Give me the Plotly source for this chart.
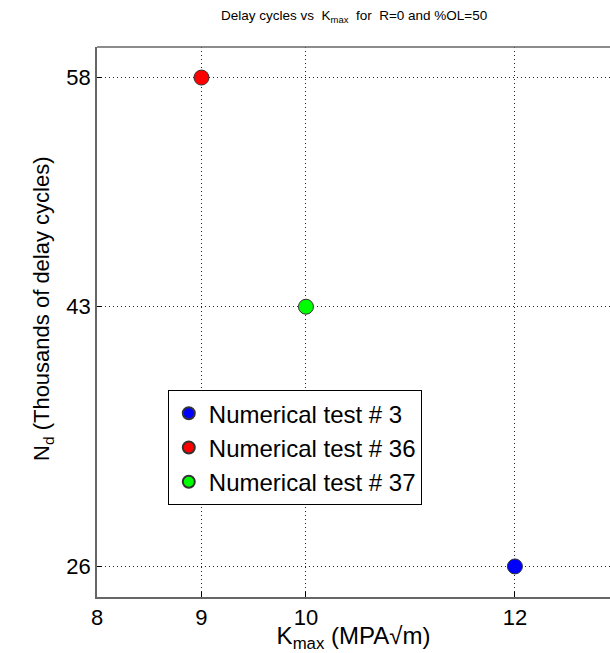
import plotly.graph_objects as go

names = ["Numerical test # 3", "Numerical test # 36", "Numerical test # 37"]
kmax = [12, 9, 10]
nd = [26, 58, 43]
colors = ["#0000ff", "#ff0000", "#00ff00"]
xticks = [8, 9, 10, 12]
yticks = [26, 43, 58]

FONT = "Liberation Sans, Arial, sans-serif"
fig = go.Figure()
for n, x, y, c in zip(names, kmax, nd, colors):
    fig.add_trace(go.Scatter(x=[x], y=[y], mode="markers", name=n,
                             marker=dict(size=15, color=c, line=dict(color="#333333", width=1))))

GRID = dict(showgrid=True, gridcolor="#222222", griddash="1px,3px", gridwidth=1)
fig.update_layout(
    width=610, height=653,
    margin=dict(l=97, r=0, t=47, b=56),
    paper_bgcolor="white", plot_bgcolor="white",
    font=dict(family=FONT, size=20, color="black"),
    showlegend=True,
    legend=dict(x=0.138, y=0.376, xanchor="left", yanchor="top",
                bordercolor="black", borderwidth=1, bgcolor="white",
                font=dict(size=24, family=FONT), itemsizing="constant",
                tracegroupgap=0),
    xaxis=dict(range=[8, 12.91], tickvals=xticks, ticktext=[str(v) for v in xticks],
               **GRID,
               zeroline=False, showline=True, linecolor="#666666", linewidth=1.5,
               mirror=False, ticks="inside", ticklen=5, tickcolor="black",
               tickfont=dict(size=22),
               title=dict(text="K<sub>max</sub> (MPA\u221am)", font=dict(size=24), standoff=0)),
    yaxis=dict(range=[24, 60], tickvals=yticks, ticktext=[str(v) for v in yticks],
               **GRID,
               zeroline=False, showline=True, linecolor="#666666", linewidth=1.5,
               ticks="inside", ticklen=5, tickcolor="black",
               tickfont=dict(size=22)),
    annotations=[dict(text="Delay cycles vs  K<sub>max</sub>  for  R=0 and %OL=50",
                      xref="paper", yref="paper", x=0.5, y=1, yshift=20,
                      xanchor="center", yanchor="bottom", showarrow=False,
                      font=dict(size=13.5, family=FONT)),
                 dict(text="N<sub>d</sub> (Thousands of delay cycles)",
                      xref="paper", yref="paper", x=-0.105, y=0.524, textangle=-90,
                      xanchor="center", yanchor="middle", showarrow=False,
                      font=dict(size=22, family=FONT))],
    shapes=[dict(type="line", xref="paper", yref="paper", x0=0, x1=1, y0=1, y1=1,
                 line=dict(color="#666666", width=1.5))],
)
fig.write_html("out.html")
